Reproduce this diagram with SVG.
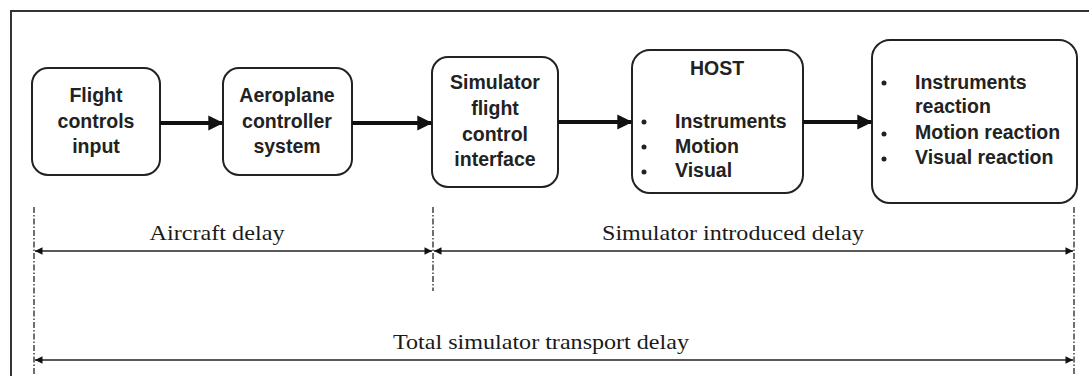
<svg xmlns="http://www.w3.org/2000/svg" width="1089" height="376" viewBox="0 0 1089 376">
<defs>
<style>
.box{fill:#fff;stroke:#222;stroke-width:2}
.lbl{font-family:"Liberation Sans",Arial,sans-serif;font-weight:bold;font-size:19.5px;fill:#222}
.c{text-anchor:middle}
.ser{font-family:"Liberation Serif","Times New Roman",serif;font-size:21px;fill:#1a1a1a}
.flow{stroke:#111;stroke-width:4;fill:none;marker-end:url(#big)}
.dim{stroke:#222;stroke-width:1.5;fill:none;marker-start:url(#smallS);marker-end:url(#smallE)}
.dash{stroke:#333;stroke-width:1.4;fill:none;stroke-dasharray:6 2 1.5 2}
.dot{fill:#222}
</style>
<marker id="big" viewBox="0 0 10 10" refX="9" refY="5" markerWidth="4.5" markerHeight="3.8" orient="auto" markerUnits="strokeWidth">
<path d="M0,0 L10,5 L0,10 Z" fill="#111"/>
</marker>
<marker id="smallE" viewBox="0 0 10 10" refX="10" refY="5" markerWidth="9" markerHeight="5" orient="auto" markerUnits="strokeWidth">
<path d="M0,0 L10,5 L0,10 Z" fill="#111"/>
</marker>
<marker id="smallS" viewBox="0 0 10 10" refX="0" refY="5" markerWidth="9" markerHeight="5" orient="auto" markerUnits="strokeWidth">
<path d="M10,0 L0,5 L10,10 Z" fill="#111"/>
</marker>
</defs>
<rect width="1089" height="376" fill="#fff"/>
<path d="M11,376 V11 H1089" fill="none" stroke="#333" stroke-width="2"/>

<g id="n1">
<rect class="box" x="32" y="68" width="128" height="107" rx="16"/>
<text class="lbl c" x="96" y="102">Flight</text>
<text class="lbl c" x="96" y="128">controls</text>
<text class="lbl c" x="96" y="153">input</text>
</g>
<g id="n2">
<rect class="box" x="223" y="68" width="129" height="107" rx="16"/>
<text class="lbl c" x="287" y="102">Aeroplane</text>
<text class="lbl c" x="287" y="128">controller</text>
<text class="lbl c" x="287" y="153">system</text>
</g>
<g id="n3">
<rect class="box" x="432" y="57" width="126" height="130" rx="16"/>
<text class="lbl c" x="495" y="89">Simulator</text>
<text class="lbl c" x="495" y="115">flight</text>
<text class="lbl c" x="495" y="141">control</text>
<text class="lbl c" x="495" y="166">interface</text>
</g>
<g id="n4">
<rect class="box" x="632" y="50" width="171" height="143" rx="18"/>
<text class="lbl c" x="717" y="75">HOST</text>
<circle class="dot" cx="644" cy="122" r="2.5"/>
<circle class="dot" cx="644" cy="147" r="2.5"/>
<circle class="dot" cx="644" cy="172" r="2.5"/>
<text class="lbl" x="675" y="128">Instruments</text>
<text class="lbl" x="675" y="153">Motion</text>
<text class="lbl" x="675" y="177">Visual</text>
</g>
<g id="n5">
<rect class="box" x="872" y="40" width="205" height="163" rx="18"/>
<circle class="dot" cx="884" cy="83" r="2.5"/>
<circle class="dot" cx="884" cy="134" r="2.5"/>
<circle class="dot" cx="884" cy="159" r="2.5"/>
<text class="lbl" x="915" y="89">Instruments</text>
<text class="lbl" x="915" y="113">reaction</text>
<text class="lbl" x="915" y="139">Motion reaction</text>
<text class="lbl" x="915" y="164">Visual reaction</text>
</g>

<g id="connectors">
<line class="flow" x1="160" y1="123" x2="222" y2="123"/>
<line class="flow" x1="352" y1="123" x2="431" y2="123"/>
<line class="flow" x1="558" y1="122" x2="631" y2="122"/>
<line class="flow" x1="803" y1="122" x2="871" y2="122"/>
</g>

<g id="dimensions">
<line class="dash" x1="34" y1="207" x2="34" y2="376"/>
<line class="dash" x1="433" y1="207" x2="433" y2="291"/>
<line class="dash" x1="1074" y1="207" x2="1074" y2="376"/>
<line class="dim" x1="35" y1="251" x2="432" y2="251"/>
<line class="dim" x1="434" y1="251" x2="1073" y2="251"/>
<line class="dim" x1="35" y1="360" x2="1073" y2="360"/>
<text class="ser c" x="217" y="240" textLength="135" lengthAdjust="spacingAndGlyphs">Aircraft delay</text>
<text class="ser c" x="733" y="240" textLength="262" lengthAdjust="spacingAndGlyphs">Simulator introduced delay</text>
<text class="ser c" x="541" y="349" textLength="296" lengthAdjust="spacingAndGlyphs">Total simulator transport delay</text>
</g>
</svg>
